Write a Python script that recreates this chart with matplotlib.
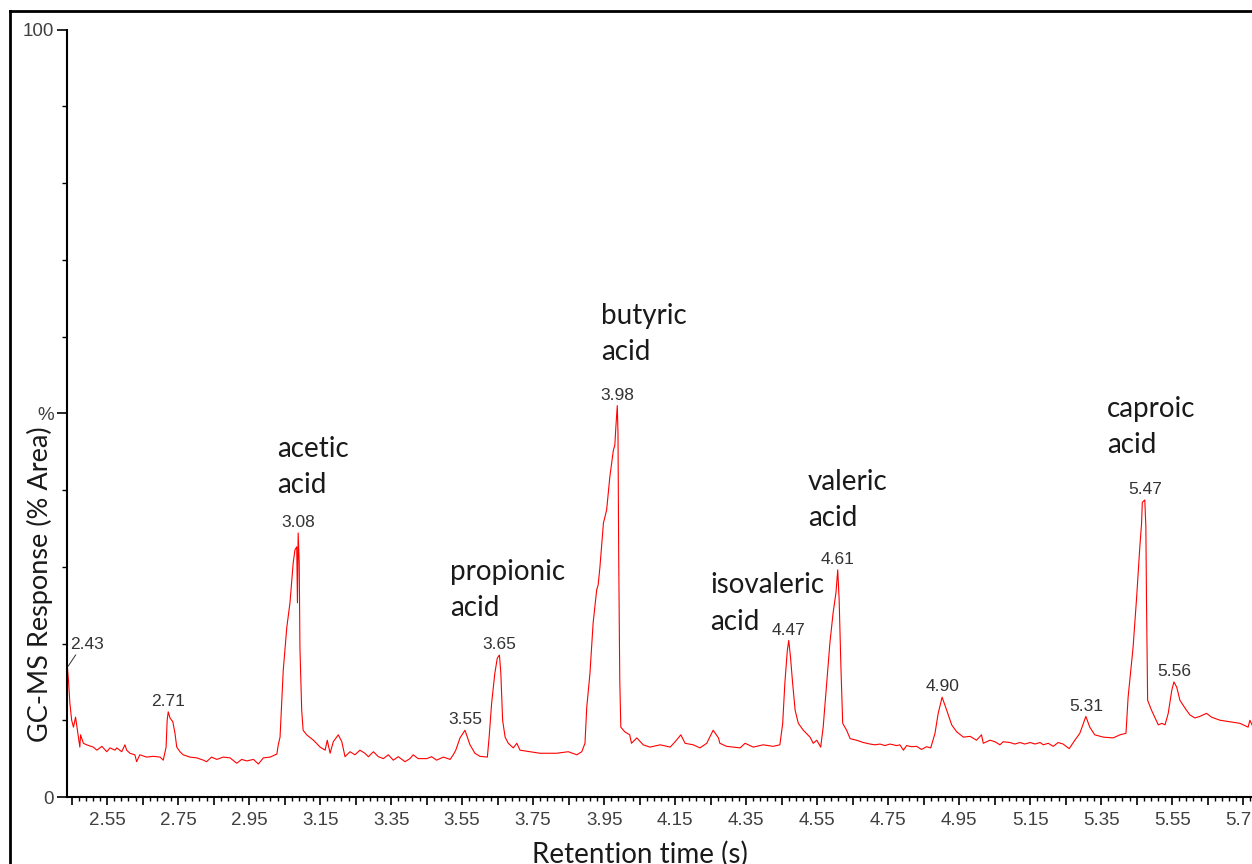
import matplotlib
matplotlib.use("Agg")
import matplotlib.pyplot as plt
from matplotlib.ticker import MultipleLocator, FixedLocator, FuncFormatter
from matplotlib.lines import Line2D
import numpy as np

# retention time (s) and response (% area)
rt = [2.438, 2.441, 2.445, 2.450, 2.455, 2.461, 2.468, 2.473, 2.475, 2.483,
      2.492, 2.511, 2.521, 2.535, 2.549, 2.558, 2.572, 2.577, 2.591, 2.600,
      2.605, 2.614, 2.628, 2.633, 2.642, 2.661, 2.680, 2.699, 2.708, 2.716,
      2.719, 2.722, 2.727, 2.735, 2.741, 2.746, 2.755, 2.764, 2.783, 2.802,
      2.821, 2.830, 2.844, 2.859, 2.877, 2.896, 2.915, 2.929, 2.943, 2.962,
      2.976, 2.990, 3.009, 3.028, 3.032, 3.037, 3.046, 3.056, 3.065, 3.074,
      3.079, 3.084, 3.086, 3.088, 3.091, 3.093, 3.098, 3.102, 3.112, 3.131,
      3.150, 3.164, 3.170, 3.178, 3.187, 3.201, 3.211,
      3.220, 3.234, 3.248, 3.262, 3.276, 3.286, 3.300, 3.314, 3.328, 3.342,
      3.356, 3.370, 3.389, 3.403, 3.412, 3.426, 3.450, 3.464, 3.478, 3.497,
      3.516, 3.525, 3.532, 3.544,
      3.558, 3.572, 3.586, 3.600, 3.621, 3.626, 3.633, 3.642, 3.649, 3.655,
      3.659, 3.664, 3.671, 3.680, 3.694, 3.704, 3.713, 3.741, 3.769, 3.816,
      3.849, 3.873, 3.887, 3.896, 3.901, 3.910, 3.919, 3.929, 3.933, 3.938,
      3.948, 3.957, 3.966, 3.976, 3.980, 3.983, 3.987, 3.989, 3.991, 3.994,
      3.997, 4.008, 4.022, 4.027, 4.042, 4.060, 4.079, 4.108, 4.136, 4.150,
      4.166, 4.178, 4.201, 4.220, 4.239, 4.257, 4.272, 4.276, 4.295, 4.333,
      4.347, 4.370, 4.398, 4.426, 4.445, 4.453, 4.459, 4.466, 4.470, 4.475,
      4.481, 4.488, 4.497, 4.511, 4.530, 4.539, 4.549, 4.560, 4.567, 4.577,
      4.586, 4.595, 4.603, 4.608, 4.612, 4.617, 4.622, 4.633,
      4.643, 4.661, 4.680, 4.699, 4.713, 4.727, 4.741, 4.755, 4.774, 4.783,
      4.793, 4.802, 4.816, 4.830, 4.844, 4.858, 4.870,
      4.882, 4.891, 4.902,
      4.915, 4.929, 4.943, 4.962, 4.981, 4.999, 5.013, 5.018,
      5.037, 5.051, 5.065, 5.074, 5.093, 5.107, 5.121, 5.135, 5.150, 5.164,
      5.178, 5.187, 5.201, 5.215, 5.229, 5.243, 5.260,
      5.276, 5.290, 5.307,
      5.318, 5.332, 5.356, 5.384, 5.403, 5.420, 5.426, 5.440, 5.450, 5.459,
      5.464, 5.466, 5.473, 5.476, 5.478, 5.481, 5.492, 5.501, 5.511, 5.521,
      5.530, 5.539, 5.549, 5.555, 5.563, 5.572, 5.586, 5.600, 5.614, 5.628,
      5.647, 5.661, 5.685, 5.713, 5.741, 5.764, 5.769, 5.775]
response = [16.9, 15.2, 12.2, 10.0, 9.1, 10.4, 8.1, 6.5, 8.1, 7.0,
            6.8, 6.5, 6.1, 6.6, 5.9, 6.4, 6.1, 6.4, 5.9, 6.8,
            6.1, 5.7, 5.5, 4.6, 5.5, 5.2, 5.3, 5.2, 4.8, 6.5,
            10.0, 11.1, 10.3, 9.8, 8.3, 6.5, 5.9, 5.5, 5.2, 5.1,
            4.8, 4.6, 5.2, 4.9, 5.2, 5.1, 4.4, 4.9, 4.7, 4.9,
            4.3, 5.1, 5.2, 5.6, 6.8, 7.8, 16.5, 22.1, 25.3, 30.5,
            32.2, 32.6, 25.3, 34.4, 30.5, 19.5, 11.3, 8.7, 8.1, 7.4,
            6.5, 6.1, 7.4, 5.7, 7.2, 8.1, 7.2,
            5.25, 5.9, 5.5, 6.1, 5.7, 5.25, 5.9, 5.25, 5.0, 5.5,
            4.8, 5.25, 4.6, 5.0, 5.5, 5.0, 5.0, 5.25, 4.8, 5.2,
            4.9, 5.5, 6.1, 7.7,
            8.7, 6.8, 5.7, 5.3, 5.2, 7.8, 12.2, 16.1, 18.1, 18.5,
            16.1, 10.0, 7.8, 7.0, 6.4, 7.0, 6.1, 5.9, 5.7, 5.7,
            5.9, 5.5, 5.9, 7.0, 11.7, 16.1, 22.7, 27.0, 27.6, 29.9,
            35.7, 37.4, 41.7, 45.2, 45.8, 48.2, 51.0, 47.4, 31.3, 15.2,
            9.1, 8.5, 8.1, 7.0, 7.7, 6.8, 6.5, 6.8, 6.5, 7.2,
            8.1, 7.0, 6.8, 6.4, 7.0, 8.7, 7.7, 7.0, 6.6, 6.4,
            7.0, 6.5, 6.8, 6.6, 6.8, 9.6, 14.8, 19.1, 20.4, 18.2,
            14.8, 11.3, 9.6, 8.7, 7.8, 7.0, 7.4, 6.5, 9.1, 14.8,
            20.1, 24.0, 26.6, 29.6, 25.7, 16.9, 9.6, 8.7,
            7.6, 7.4, 7.1, 6.9, 6.8, 6.9, 6.7, 6.9, 6.7, 6.8,
            6.1, 6.7, 6.55, 6.6, 6.2, 6.55, 6.4,
            8.3, 10.9, 13.0,
            11.3, 9.4, 8.5, 7.8, 7.9, 7.4, 8.1, 7.0,
            7.4, 7.2, 6.8, 7.2, 7.1, 6.9, 7.1, 6.9, 7.1, 6.9,
            7.1, 6.8, 7.0, 6.6, 7.1, 6.9, 6.3,
            7.4, 8.3, 10.5,
            9.1, 8.1, 7.8, 7.7, 8.1, 8.3, 13.0, 19.5, 26.0, 32.6,
            35.7, 38.4, 38.7, 35.2, 24.7, 12.6, 11.3, 10.4, 9.4, 9.6,
            9.4, 10.9, 13.9, 15.0, 14.3, 12.6, 11.6, 10.7, 10.3, 10.5,
            10.9, 10.4, 10.0, 9.8, 9.6, 9.1, 10.0, 9.4]

peak_times = [2.71, 3.08, 3.55, 3.65, 3.98, 4.47, 4.61, 4.90, 5.31, 5.47, 5.56]
first_peak = "2.43"

compounds = ["acetic\nacid", "propionic\nacid", "butyric\nacid",
             "isovaleric\nacid", "valeric\nacid", "caproic\nacid"]
# where each compound name sits (retention time of left edge, response at centre)
compound_pos = [(3.028, 43.0), (3.516, 27.0), (3.941, 60.3),
                (4.248, 25.2), (4.524, 38.7), (5.367, 48.2)]

W, H = 1252, 864
fig = plt.figure(figsize=(W / 100, H / 100), dpi=100)
fig.patch.set_facecolor("white")

ax = fig.add_axes([66.7 / W, 67 / H, 1 - 66.7 / W, (797 - 29.5) / H])
ax.plot(rt, response, color="#ff0000", lw=0.8)
ax.set_xlim(2.436, 5.775)
ax.set_ylim(0, 100)

for s in ["top", "right"]:
    ax.spines[s].set_visible(False)
for s in ["left", "bottom"]:
    ax.spines[s].set_linewidth(1.5)

ax.xaxis.set_major_locator(MultipleLocator(0.1, offset=0.05))
ax.xaxis.set_minor_locator(MultipleLocator(0.02, offset=0.01))
ax.xaxis.set_major_formatter(FuncFormatter(
    lambda v, p: "%.2f" % v if abs(round((v - 2.55) / 0.2) - (v - 2.55) / 0.2) < 0.01 else ""))
ax.tick_params(axis="x", which="major", length=6, width=1.2, pad=5, colors="black",
               labelcolor="#404040", labelsize=13.5)
ax.tick_params(axis="x", which="minor", length=3, width=1.0)

ax.yaxis.set_major_locator(FixedLocator([0, 50, 100]))
ax.yaxis.set_minor_locator(FixedLocator([10, 20, 30, 40, 60, 70, 80, 90]))
ax.set_yticklabels(["0", "%", "100"])
ax.tick_params(axis="y", which="major", length=7, width=1.2, pad=2,
               labelcolor="#404040", labelsize=13.5)
ax.tick_params(axis="y", which="minor", length=3.5, width=1.0)
for lab in ax.get_xticklabels() + ax.get_yticklabels():
    lab.set_family("Liberation Sans")

# peak retention-time labels
rt_arr = np.array(rt)
resp_arr = np.array(response)
for t in peak_times:
    win = np.abs(rt_arr - t) < 0.025
    i = np.argmax(np.where(win, resp_arr, -1))
    ax.annotate("%.2f" % t, (rt_arr[i], resp_arr[i]), xytext=(0, 2),
                textcoords="offset points", ha="center", va="bottom",
                family="Liberation Sans", size=12.5, color="#333333")
ax.annotate(first_peak, (rt[0], response[0]), xytext=(2, 11),
            textcoords="offset points", ha="left", va="bottom",
            family="Liberation Sans", size=12.5, color="#333333",
            arrowprops=dict(arrowstyle="-", lw=0.7, color="#333333",
                            shrinkA=0, shrinkB=1, relpos=(0.25, 0.1)))

for name, (x, y) in zip(compounds, compound_pos):
    ax.text(x, y, name, ha="left", va="center", family="Lato", size=20,
            color="#1a1a1a", linespacing=1.5)

fig.text(40 / W, 1 - 584 / H, "GC-MS Response (% Area)", rotation=90,
         ha="center", va="center", family="Lato", size=19.5, color="#1a1a1a")
fig.text(640 / W, 1 - 863 / H, "Retention time (s)", ha="center",
         va="baseline", family="Lato", size=20, color="#1a1a1a")

# frame around the figure (only top and left edges are inside the crop)
fig.add_artist(Line2D([10 / W, 10 / W], [-0.05, 1 - 11 / H], color="black",
                      lw=2, transform=fig.transFigure))
fig.add_artist(Line2D([10 / W, 1.05], [1 - 11 / H, 1 - 11 / H], color="black",
                      lw=2, transform=fig.transFigure))

fig.savefig("out.png", dpi=100)
